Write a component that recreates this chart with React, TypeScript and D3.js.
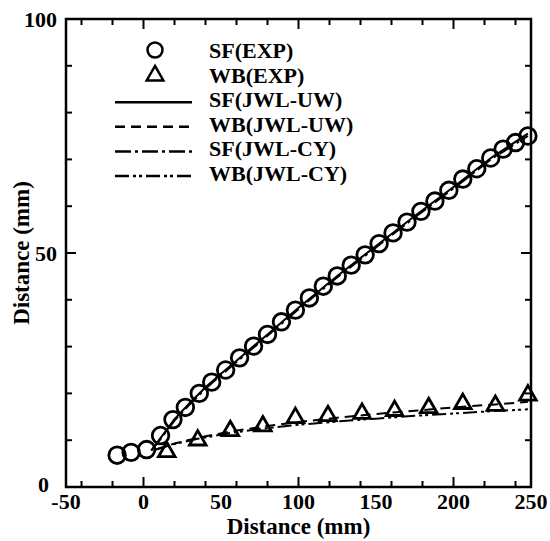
import React, { useEffect, useRef } from "react";
import * as d3 from "d3";

// experimental points
const sfExpX = [-17, -8, 2, 11, 19, 27, 36, 44, 53, 62, 71, 80, 89, 98, 107, 116, 125, 134, 143, 152, 161, 170, 179, 188, 197, 206, 215, 224, 232, 240, 248];
const sfExpY = [6.8, 7.4, 8.0, 11.0, 14.4, 17.0, 20.0, 22.4, 25.0, 27.6, 30.1, 32.6, 35.3, 37.8, 40.4, 42.9, 45.1, 47.4, 49.6, 52.0, 54.3, 56.6, 58.9, 61.1, 63.4, 65.8, 68.0, 70.3, 72.2, 73.6, 75.0];
const wbExpX = [15, 35, 56, 77, 98, 119, 141, 162, 184, 206, 227, 248];
const wbExpY = [7.5, 10.0, 12.0, 13.0, 14.8, 15.2, 15.7, 16.3, 16.9, 17.8, 17.4, 19.6];

// simulation curves
const sfSimX = [5, 10, 20, 30, 40, 50, 60, 80, 100, 125, 150, 175, 200, 225, 248];
const sfUwY = [7.8, 10.0, 14.5, 18.0, 21.3, 24.2, 27.0, 32.6, 38.3, 45.1, 51.5, 57.9, 64.1, 70.5, 75.5];
const sfCyY = [7.8, 9.8, 14.2, 17.7, 21.0, 23.9, 26.7, 32.3, 38.0, 44.8, 51.2, 57.6, 63.8, 70.2, 75.0];
const wbSimX = [8, 20, 35, 55, 75, 100, 125, 150, 175, 200, 225, 248];
const wbUwY = [8.0, 9.3, 10.5, 11.8, 12.8, 13.9, 14.8, 15.6, 16.3, 17.0, 17.6, 18.2];
const wbCyY = [8.0, 9.2, 10.3, 11.5, 12.4, 13.3, 14.0, 14.6, 15.2, 15.7, 16.2, 16.6];

const legendLabels = ["SF(EXP)", "WB(EXP)", "SF(JWL-UW)", "WB(JWL-UW)", "SF(JWL-CY)", "WB(JWL-CY)"];
const lineDashes = ["none", "10,6", "16,4,3,4", "14,4,3,3,3,4"];

const FONT = "'Liberation Serif', 'Times New Roman', serif";

const App = () => {
  const ref = useRef<SVGSVGElement>(null);

  useEffect(() => {
    const svg = d3.select(ref.current);
    svg.selectAll("*").remove();

    const x = d3.scaleLinear().domain([-50, 250]).range([66, 531]);
    const y = d3.scaleLinear().domain([0, 100]).range([487, 19]);
    const [x0, x1] = x.range();
    const [y0, y1] = y.range();

    const g = svg.append("g");

    // simulation lines
    const line = d3.line<[number, number]>().x(d => x(d[0])).y(d => y(d[1]));
    const curves: [number[], number[], string][] = [
      [sfSimX, sfUwY, lineDashes[0]],
      [wbSimX, wbUwY, lineDashes[1]],
      [sfSimX, sfCyY, lineDashes[2]],
      [wbSimX, wbCyY, lineDashes[3]],
    ];
    curves.forEach(([xs, ys, dash]) => {
      g.append("path")
        .attr("d", line(xs.map((v, i) => [v, ys[i]] as [number, number])))
        .attr("fill", "none")
        .attr("stroke", "#000")
        .attr("stroke-width", 2)
        .attr("stroke-dasharray", dash);
    });

    // markers
    g.selectAll(".sf")
      .data(sfExpX)
      .enter()
      .append("circle")
      .attr("cx", d => x(d))
      .attr("cy", (d, i) => y(sfExpY[i]))
      .attr("r", 8.3)
      .attr("fill", "none")
      .attr("stroke", "#000")
      .attr("stroke-width", 2.8);

    const tri = d3.symbol().type(d3.symbolTriangle).size(120);
    g.selectAll(".wb")
      .data(wbExpX)
      .enter()
      .append("path")
      .attr("d", tri)
      .attr("transform", (d, i) => `translate(${x(d)},${y(wbExpY[i])})`)
      .attr("fill", "none")
      .attr("stroke", "#000")
      .attr("stroke-width", 2.8);

    // frame
    g.append("rect")
      .attr("x", x0).attr("y", y1)
      .attr("width", x1 - x0).attr("height", y0 - y1)
      .attr("fill", "none").attr("stroke", "#000").attr("stroke-width", 2.5);

    // ticks (inside, all four sides)
    const tick = (x1_: number, y1_: number, x2_: number, y2_: number) =>
      g.append("line").attr("x1", x1_).attr("y1", y1_).attr("x2", x2_).attr("y2", y2_)
        .attr("stroke", "#000").attr("stroke-width", 2);
    const xMajor = x.ticks(6);
    x.ticks(12).forEach(v => {
      const len = xMajor.includes(v) ? 10 : 6;
      tick(x(v), y0, x(v), y0 - len);
      tick(x(v), y1, x(v), y1 + len);
    });
    const yMajor = y.ticks(2);
    y.ticks(10).forEach(v => {
      const len = yMajor.includes(v) ? 10 : 6;
      tick(x0, y(v), x0 + len, y(v));
      tick(x1, y(v), x1 - len, y(v));
    });

    const text = (s: string, tx: number, ty: number, anchor: string, size: number) =>
      g.append("text").attr("x", tx).attr("y", ty).attr("text-anchor", anchor)
        .attr("font-family", FONT).attr("font-weight", "bold").attr("font-size", size)
        .attr("fill", "#000").text(s);

    xMajor.forEach(v => text(String(v), x(v), 509, "middle", 22));
    yMajor.forEach(v =>
      v === 0 ? text("0", 49, 492, "end", 22) : text(String(v), 57, y(v) + 8, "end", 22)
    );

    text("Distance (mm)", (x0 + x1) / 2, 534, "middle", 23);
    text("Distance (mm)", 0, 0, "middle", 23)
      .attr("transform", `translate(29,${(y0 + y1) / 2}) rotate(-90)`);

    // legend
    const rowY = (i: number) => 50 + i * 24.6;
    g.append("circle").attr("cx", 155).attr("cy", rowY(0)).attr("r", 7.5)
      .attr("fill", "none").attr("stroke", "#000").attr("stroke-width", 2.5);
    g.append("path").attr("d", tri).attr("transform", `translate(155,${rowY(1) + 1})`)
      .attr("fill", "none").attr("stroke", "#000").attr("stroke-width", 2.5);
    lineDashes.forEach((dash, k) => {
      g.append("line")
        .attr("x1", 115).attr("x2", 192)
        .attr("y1", rowY(k + 2) + 3).attr("y2", rowY(k + 2) + 3)
        .attr("stroke", "#000").attr("stroke-width", 2.5)
        .attr("stroke-dasharray", dash);
    });
    legendLabels.forEach((s, i) => text(s, 209, rowY(i) + 8, "start", 22));
  }, []);

  return (
    <svg
      ref={ref}
      width={550}
      height={541}
      style={{ position: "absolute", left: 0, top: 0, background: "#fff" }}
    />
  );
};

export default App;
